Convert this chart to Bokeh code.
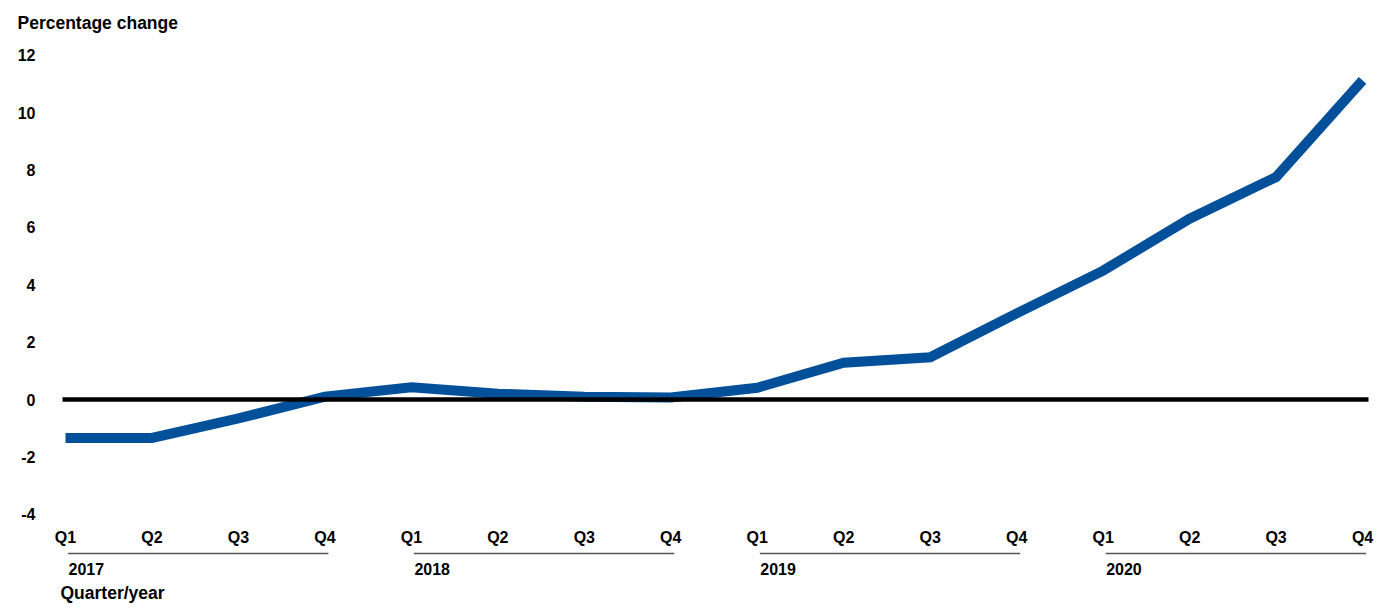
from bokeh.plotting import figure
from bokeh.models import Range1d, ColumnDataSource
from bokeh.core.properties import value
from bokeh.embed import file_html
from bokeh.resources import INLINE

# ---- data ----
years = ["2017", "2018", "2019", "2020"]
quarters = ["Q1", "Q2", "Q3", "Q4"]
pct_change = [-1.34, -1.34, -0.66, 0.10,
              0.43, 0.20, 0.10, 0.07,
              0.41, 1.28, 1.47, 3.00,
              4.49, 6.30, 7.75, 11.12]
y_ticks = [12, 10, 8, 6, 4, 2, 0, -2, -4]
title_text = "Percentage change"
xlabel_text = "Quarter/year"

# ---- layout (pixel geometry of the 1389x613 canvas) ----
W, H = 1389, 613
X0_PX, DX_PX = 65.0, 86.47      # pixel of first quarter, pixels per quarter
Y0_PX, DY_PX = 399.0, 28.7      # pixel of zero, pixels per unit


def dx(px):
    return (px - X0_PX) / DX_PX


def dy(py):
    return (Y0_PX - py) / DY_PX


FONT = value("Liberation Sans")
BLUE = "#03509A"

p = figure(width=W, height=H, output_backend="svg", toolbar_location=None,
           x_range=Range1d(dx(0), dx(W)), y_range=Range1d(dy(H), dy(0)),
           min_border=0, x_axis_location=None, y_axis_location=None)
p.grid.visible = False
p.outline_line_color = None
p.background_fill_color = "white"
p.border_fill_color = "white"

idx = list(range(len(pct_change)))
src = ColumnDataSource(dict(x=idx, y=pct_change))
p.line("x", "y", source=src, line_color=BLUE, line_width=10,
       line_join="miter", line_cap="butt")

# zero line
p.segment(x0=[dx(62)], y0=[0], x1=[dx(1368)], y1=[0],
          line_color="black", line_width=4.5)

# y tick labels
p.text(x=[dx(35)] * len(y_ticks), y=y_ticks, text=[str(t) for t in y_ticks],
       text_font=FONT, text_font_style="bold", text_font_size="16px",
       text_align="right", text_baseline="middle", text_color="black")

# quarter labels
q_labels = [q for _ in years for q in quarters]
p.text(x=idx, y=[dy(537)] * len(idx), text=q_labels,
       text_font=FONT, text_font_style="bold", text_font_size="16px",
       text_align="center", text_baseline="middle", text_color="black")

# year separators and labels
starts = [i * 4 for i in range(len(years))]
p.segment(x0=[s + 0.03 for s in starts], y0=[dy(553)] * len(years),
          x1=[s + 3 + 0.04 for s in starts], y1=[dy(553)] * len(years),
          line_color="#555555", line_width=1.5)
p.text(x=[s + 0.035 for s in starts], y=[dy(568)] * len(years), text=years,
       text_font=FONT, text_font_style="bold", text_font_size="16px",
       text_align="left", text_baseline="middle", text_color="black")

# axis titles
p.text(x=[dx(60)], y=[dy(592)], text=[xlabel_text],
       text_font=FONT, text_font_style="bold", text_font_size="17.5px",
       text_align="left", text_baseline="middle", text_color="black")
p.text(x=[dx(17)], y=[dy(22)], text=[title_text],
       text_font=FONT, text_font_style="bold", text_font_size="17.5px",
       text_align="left", text_baseline="middle", text_color="black")

open("out.html", "w").write(file_html(p, INLINE))
